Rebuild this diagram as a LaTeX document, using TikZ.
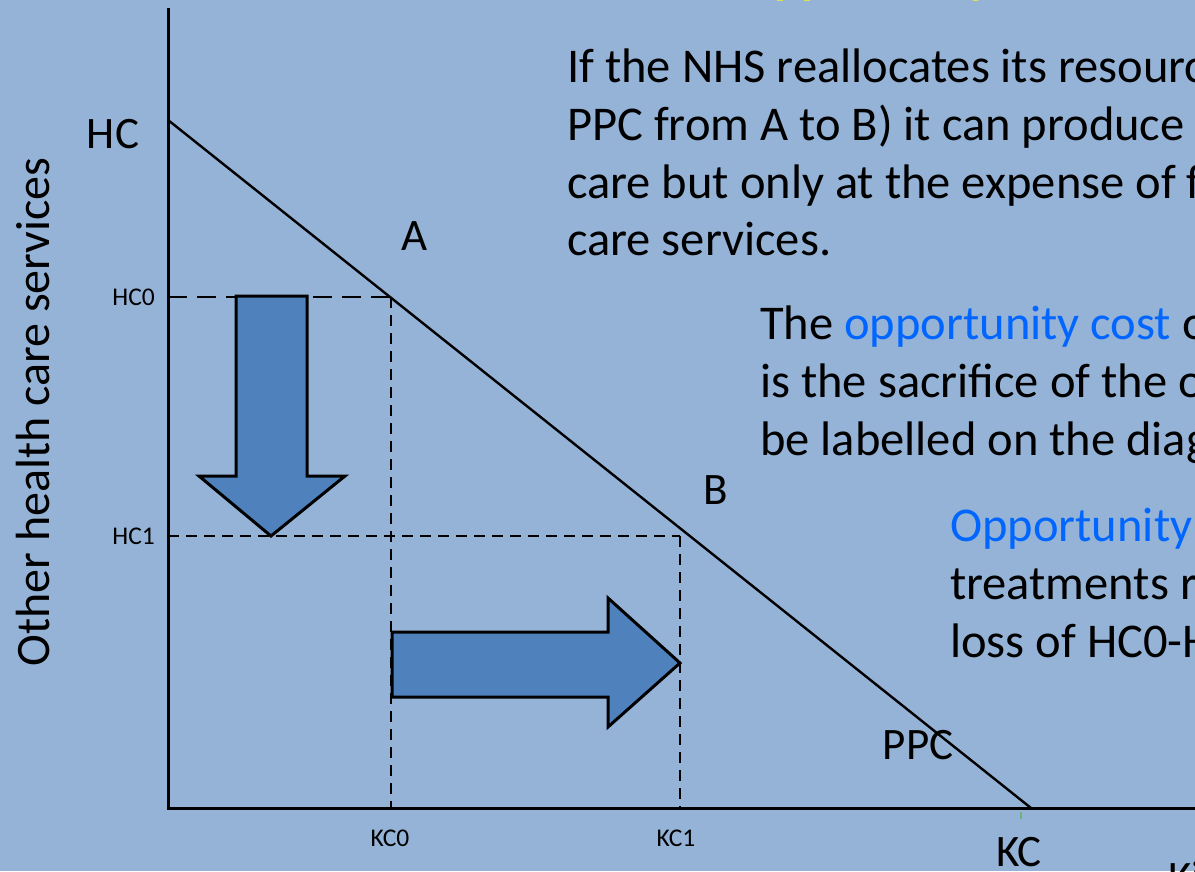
\documentclass[tikz,border=0pt]{standalone}
\usepackage{fontspec}
\setmainfont{Carlito}
\definecolor{bg}{RGB}{149,179,215}
\definecolor{arrowblue}{RGB}{79,129,189}
\definecolor{keyblue}{RGB}{0,102,255}
\definecolor{titleyellow}{RGB}{255,255,0}
\definecolor{tickgreen}{RGB}{110,180,120}
\begin{document}
\begin{tikzpicture}[x=1pt,y=-1pt,
  axis/.style={line width=3pt,black},
  ppcline/.style={line width=2.4pt,black},
  guide/.style={line width=2.6pt,black,dash pattern=on 11pt off 7pt},
  bigarrow/.style={fill=arrowblue,draw=black,line width=3pt,line join=miter},
  lbl/.style={inner sep=0pt,font=\fontsize{45}{54}\selectfont},
  ticklbl/.style={inner sep=0pt,font=\fontsize{25.5}{30}\selectfont},
  body/.style={inner sep=0pt,anchor=base west,font=\fontsize{48.5}{58}\selectfont},
]
\useasboundingbox (0,0) rectangle (1195,871);
\clip (0,0) rectangle (1195,871);
\fill[bg] (0,0) rectangle (1195,871);

% key points of the production possibility curve
\coordinate (O) at (168,808);
\coordinate (ytop) at (168,8);
\coordinate (xend) at (1205,808);
\coordinate (HCpt) at (168,120);
\coordinate (KCpt) at (1031,808);
\coordinate (A) at (391,297);
\coordinate (B) at (680,536);
\coordinate (hc0) at (168,297);
\coordinate (hc1) at (168,536);
\coordinate (kc0) at (391,808);
\coordinate (kc1) at (680,808);

% guide lines to the axes
\draw[guide,dash pattern=on 19pt off 10pt] (hc0) -- (A);
\draw[guide] (A) -- (kc0);
\draw[guide] (hc1) -- (B);
\draw[guide] (B) -- (kc1);

% block arrows showing the shift from A to B
\draw[bigarrow] (236,296) -- (307,296) -- (307,476) -- (345,476) -- (271,536)
  -- (199,476) -- (236,476) -- cycle;
\draw[bigarrow] (392,632) -- (608,632) -- (608,598) -- (680,663) -- (608,727)
  -- (608,697) -- (392,697) -- cycle;

% axes and curve
\draw[axis] (ytop) -- (O) -- (xend);
\draw[ppcline] (HCpt) -- (KCpt);
\draw[tickgreen,line width=1.5pt] (1021,812) -- (1021,819);

% axis and point labels
\node[lbl] (lHC) at (113,134) {HC};
\node[lbl] (lA) at (415,236) {A};
\node[lbl] (lB) at (716,490) {B};
\node[lbl] (lPPC) at (918,745) {PPC};
\node[lbl] (lKC) at (1019,852) {KC};
\node[lbl,anchor=base west] (lKi) at (1168,892) {Kidney treatments};
\node[ticklbl,anchor=east] (lHC0) at (155,297) {HC0};
\node[ticklbl,anchor=east] (lHC1) at (155,536) {HC1};
\node[ticklbl] (lKC0) at (390,838) {KC0};
\node[ticklbl] (lKC1) at (676,838) {KC1};
\node[inner sep=0pt,rotate=90,font=\fontsize{48}{58}\selectfont] (ylab) at (33,412) {Other health care services};

% heading
\node[body,font=\fontsize{48.5}{58}\selectfont\bfseries,text=titleyellow] (title) at (742,-6.6) {Opportunity cost};

% explanatory text
\node[body] (t1) at (567,82) {If the NHS reallocates its resources};
\node[body] (t2) at (567,140) {PPC from A to B) it can produce more kidney};
\node[body] (t3) at (567,198) {care but only at the expense of fewer other health};
\node[body] (t4) at (567,255) {care services.};

\node[body] (u1) at (760,339) {The \textcolor{keyblue}{opportunity cost} of this};
\node[body] (u2) at (760,397) {is the sacrifice of the other};
\node[body] (u3) at (760,455) {be labelled on the diagram};

\node[body] (v1) at (950,541) {\textcolor{keyblue}{Opportunity cost}};
\node[body] (v2) at (950,599) {treatments rather};
\node[body] (v3) at (950,657) {loss of HC0-HC1};
\end{tikzpicture}
\end{document}
